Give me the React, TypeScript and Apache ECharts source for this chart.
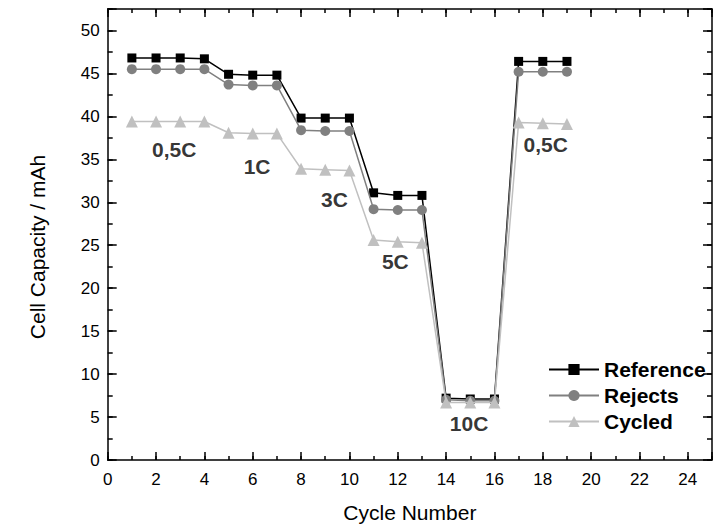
import React, { useEffect, useRef } from "react";
import * as echarts from "echarts";

// Rate-capability test: capacity per cycle at stepped C-rates
const cycles = [1, 2, 3, 4, 5, 6, 7, 8, 9, 10, 11, 12, 13, 14, 15, 16, 17, 18, 19];
const reference = [46.8, 46.8, 46.8, 46.7, 44.9, 44.8, 44.8, 39.8, 39.8, 39.8, 31.1, 30.8, 30.8, 7.2, 7.1, 7.1, 46.4, 46.4, 46.4];
const rejects = [45.5, 45.5, 45.5, 45.5, 43.7, 43.6, 43.6, 38.4, 38.3, 38.3, 29.2, 29.1, 29.1, 7.0, 6.9, 6.9, 45.2, 45.2, 45.2];
const cycledCells = [39.4, 39.4, 39.4, 39.4, 38.1, 38.0, 38.0, 33.9, 33.8, 33.7, 25.6, 25.4, 25.3, 6.7, 6.7, 6.7, 39.3, 39.2, 39.1];

// C-rate annotations placed in data coordinates [cycle, capacity]
const rateLabels = ["0,5C", "1C", "3C", "5C", "10C", "0,5C"];
const rateLabelX = [2.75, 6.18, 9.38, 11.9, 14.95, 18.12];
const rateLabelY = [36.2, 34.2, 30.3, 23.1, 4.3, 36.7];

const FONT = "'Liberation Sans', Arial, Helvetica, sans-serif";

export default function App() {
  const ref = useRef<HTMLDivElement>(null);

  useEffect(() => {
    if (!ref.current) return;
    const chart = echarts.init(ref.current, null, { renderer: "svg" });

    const lineW = 1.5;
    const axisLine = { show: true, onZero: false, lineStyle: { color: "#000", width: lineW } };
    const hiddenLine = { show: false, onZero: false };
    const xBase = { type: "value" as const, min: 0, max: 25, splitLine: { show: false } };
    const yBase = { type: "value" as const, min: 0, max: 52.5, splitLine: { show: false } };
    const noLabel = { show: false };
    const tick = (length: number) => ({ inside: true, length, lineStyle: { color: "#000", width: lineW } });

    const pair = (xs: number[], ys: number[]) => xs.map((x, i) => [x, ys[i]]);

    chart.setOption({
      animation: false,
      backgroundColor: "#fff",
      textStyle: { fontFamily: FONT },
      grid: { left: 107.7, top: 9, right: -5.2, bottom: 64.3, containLabel: false },
      xAxis: [
        {
          ...xBase,
          position: "bottom",
          interval: 2,
          axisLine,
          axisTick: tick(8),
          axisLabel: {
            color: "#000",
            fontSize: 17,
            fontFamily: FONT,
            margin: 11,
            formatter: (v: number) => (v % 2 === 0 ? String(v) : ""),
          },
          name: "Cycle Number",
          nameLocation: "middle",
          nameGap: 42,
          nameTextStyle: { color: "#000", fontSize: 21, fontFamily: FONT },
        },
        { ...xBase, position: "bottom", interval: 1, axisLine: hiddenLine, axisTick: tick(4), axisLabel: noLabel },
        { ...xBase, position: "top", interval: 2, axisLine, axisTick: tick(8), axisLabel: noLabel },
        { ...xBase, position: "top", interval: 1, axisLine: hiddenLine, axisTick: tick(4), axisLabel: noLabel },
      ],
      yAxis: [
        {
          ...yBase,
          position: "left",
          interval: 5,
          axisLine,
          axisTick: tick(9),
          axisLabel: {
            color: "#000",
            fontSize: 17,
            fontFamily: FONT,
            margin: 8,
            formatter: (v: number) => (v % 5 === 0 ? String(v) : ""),
          },
        },
        { ...yBase, position: "left", interval: 2.5, axisLine: hiddenLine, axisTick: tick(5), axisLabel: noLabel },
        { ...yBase, position: "right", interval: 5, axisLine, axisTick: tick(9), axisLabel: noLabel },
        { ...yBase, position: "right", interval: 2.5, axisLine: hiddenLine, axisTick: tick(5), axisLabel: noLabel },
      ],
      graphic: [
        {
          type: "text",
          x: 37,
          y: 247,
          rotation: Math.PI / 2,
          style: {
            text: "Cell Capacity / mAh",
            fill: "#000",
            font: `21px ${FONT}`,
            align: "center",
            verticalAlign: "middle",
          },
        },
      ],
      legend: {
        data: ["Reference", "Rejects", "Cycled"],
        orient: "vertical",
        left: 548,
        top: 359,
        padding: 0,
        itemWidth: 50,
        itemHeight: 14,
        itemGap: 5,
        textStyle: { color: "#000", fontSize: 21, fontWeight: "bold", fontFamily: FONT, lineHeight: 21 },
      },
      series: [
        {
          name: "Reference",
          type: "line",
          data: pair(cycles, reference),
          symbol: "rect",
          symbolSize: 9,
          itemStyle: { color: "#000" },
          lineStyle: { color: "#000", width: lineW },
          z: 3,
        },
        {
          name: "Rejects",
          type: "line",
          data: pair(cycles, rejects),
          symbol: "circle",
          symbolSize: 10,
          itemStyle: { color: "#808080" },
          lineStyle: { color: "#808080", width: lineW },
          z: 4,
        },
        {
          name: "Cycled",
          type: "line",
          data: pair(cycles, cycledCells),
          symbol: "triangle",
          symbolSize: 12,
          itemStyle: { color: "#c0c0c0" },
          lineStyle: { color: "#c0c0c0", width: lineW },
          z: 5,
        },
        {
          name: "rates",
          type: "scatter",
          data: rateLabels.map((t, i) => ({ value: [rateLabelX[i], rateLabelY[i]], name: t })),
          symbolSize: 0,
          silent: true,
          label: {
            show: true,
            position: "inside",
            formatter: (p: any) => p.name,
            color: "#000",
            fontSize: 21,
            fontWeight: "bold",
            fontFamily: FONT,
          },
          z: 6,
        },
      ],
    });

    return () => chart.dispose();
  }, []);

  return (
    <div
      ref={ref}
      style={{ position: "absolute", left: 0, top: 0, width: 715, height: 528 }}
    />
  );
}
